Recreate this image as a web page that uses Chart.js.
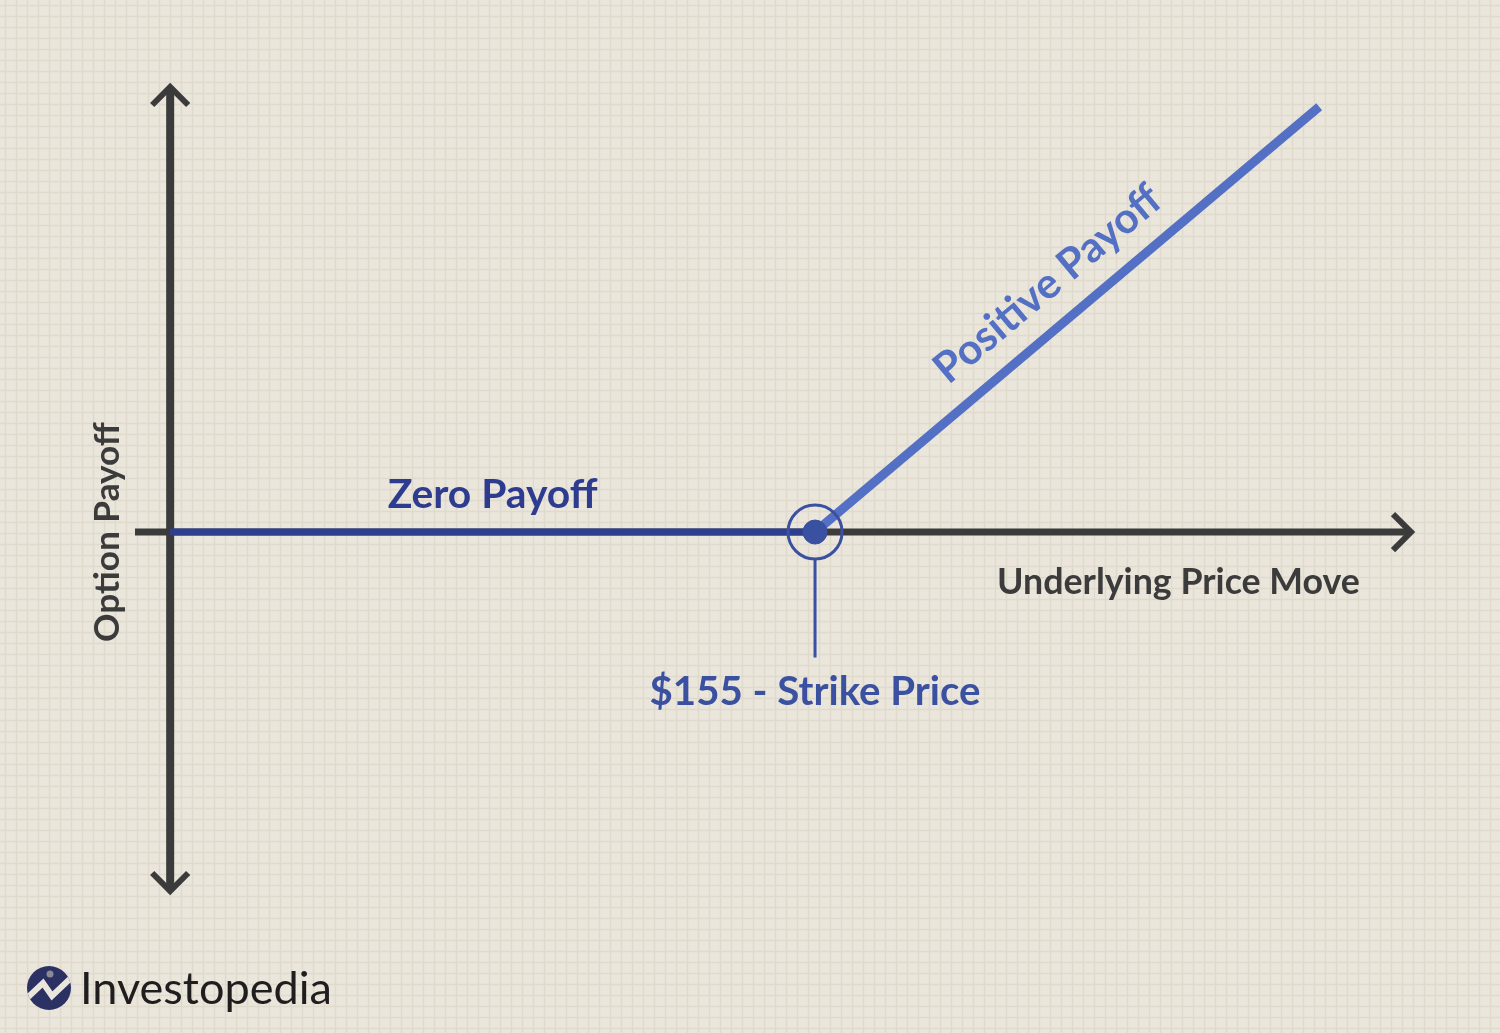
<!DOCTYPE html>
<html>
<head>
<meta charset="utf-8">
<script src="https://cdn.jsdelivr.net/npm/chart.js@4/dist/chart.umd.min.js"></script>
<style>
  html, body { margin: 0; padding: 0; background: #ebe6dc; }
  #wrap { width: 1500px; height: 1033px; position: relative; }
</style>
</head>
<body>
<div id="wrap"><canvas id="c"></canvas></div>
<script>
// ---- Data ----
const strikePrice = 155;
const zeroPayoffX = [100, 155];
const zeroPayoffY = [0, 0];
const positivePayoffX = [155, 198];
const positivePayoffY = [0, 43];
const strikeLeaderY = [-2.8, -12.7];
const axisOriginX = 100;

const labelTexts = {
  zero: 'Zero Payoff',
  positive: 'Positive Payoff',
  xAxis: 'Underlying Price Move',
  strike: '$155 - Strike Price',
  yAxis: 'Option Payoff',
  brand: 'Investopedia'
};

const toPts = (xs, ys) => xs.map((x, i) => ({ x, y: ys[i] }));

const FONT = 'Lato, "Noto Sans", sans-serif';

function fitFont(ctx, text, weight, targetW) {
  ctx.font = `${weight} 40px ${FONT}`;
  const w = ctx.measureText(text).width;
  const size = 40 * targetW / w;
  return `${weight} ${size}px ${FONT}`;
}

const bgPlugin = {
  id: 'bg',
  beforeDraw(chart) {
    const { ctx, width, height } = chart;
    ctx.save();
    ctx.fillStyle = '#ebe6dc';
    ctx.fillRect(0, 0, width, height);
    ctx.strokeStyle = '#e0dacd';
    ctx.lineWidth = 1.5;
    ctx.beginPath();
    for (let x = 5.5; x < width; x += 11) { ctx.moveTo(x, 0); ctx.lineTo(x, height); }
    for (let y = 5.5; y < height; y += 11) { ctx.moveTo(0, y); ctx.lineTo(width, y); }
    ctx.stroke();
    ctx.restore();
  }
};

const axesPlugin = {
  id: 'axesArrows',
  beforeDatasetsDraw(chart) {
    const { ctx, chartArea, scales } = chart;
    const x0 = scales.x.getPixelForValue(axisOriginX);
    const y0 = scales.y.getPixelForValue(0);
    ctx.save();
    ctx.strokeStyle = '#3b3b3b';
    ctx.lineCap = 'butt';
    ctx.lineJoin = 'miter';
    // y axis
    ctx.lineWidth = 8;
    ctx.beginPath();
    ctx.moveTo(x0, chartArea.top + 3);
    ctx.lineTo(x0, chartArea.bottom - 3);
    ctx.stroke();
    ctx.lineWidth = 6;
    ctx.beginPath();
    ctx.moveTo(x0 - 18, chartArea.top + 20);
    ctx.lineTo(x0, chartArea.top + 2);
    ctx.lineTo(x0 + 18, chartArea.top + 20);
    ctx.moveTo(x0 - 18, chartArea.bottom - 20);
    ctx.lineTo(x0, chartArea.bottom - 2);
    ctx.lineTo(x0 + 18, chartArea.bottom - 20);
    ctx.stroke();
    // x axis
    ctx.lineWidth = 7;
    ctx.beginPath();
    ctx.moveTo(chartArea.left, y0);
    ctx.lineTo(chartArea.right - 3, y0);
    ctx.stroke();
    ctx.lineWidth = 6;
    ctx.beginPath();
    ctx.moveTo(chartArea.right - 20, y0 - 18);
    ctx.lineTo(chartArea.right - 2, y0);
    ctx.lineTo(chartArea.right - 20, y0 + 18);
    ctx.stroke();
    ctx.restore();
  }
};

const labelPlugin = {
  id: 'labels',
  afterDatasetsDraw(chart, args, opts) {
    const { ctx, scales } = chart;
    ctx.save();
    opts.items.forEach(it => {
      const px = scales.x.getPixelForValue(it.x);
      const py = scales.y.getPixelForValue(it.y);
      ctx.save();
      ctx.translate(px, py);
      ctx.rotate(it.angle * Math.PI / 180);
      ctx.font = fitFont(ctx, it.text, it.weight, it.width);
      ctx.fillStyle = it.color;
      ctx.textAlign = 'center';
      ctx.textBaseline = 'alphabetic';
      ctx.fillText(it.text, 0, 0);
      ctx.restore();
    });
    // brand logo
    ctx.fillStyle = '#2c3163';
    ctx.beginPath();
    ctx.arc(49, 988, 22, 0, Math.PI * 2);
    ctx.fill();
    ctx.save();
    ctx.beginPath();
    ctx.arc(49, 988, 22, 0, Math.PI * 2);
    ctx.clip();
    ctx.strokeStyle = '#ebe6dc';
    ctx.lineWidth = 6;
    ctx.lineJoin = 'miter';
    ctx.beginPath();
    ctx.moveTo(24, 1001);
    ctx.lineTo(43, 983);
    ctx.lineTo(52, 996);
    ctx.lineTo(74, 975);
    ctx.stroke();
    ctx.restore();
    ctx.fillStyle = '#8a8a96';
    ctx.beginPath();
    ctx.arc(50, 974, 3.5, 0, Math.PI * 2);
    ctx.fill();
    ctx.font = fitFont(ctx, labelTexts.brand, 400, 252);
    ctx.fillStyle = '#1f1d1e';
    ctx.textAlign = 'left';
    ctx.textBaseline = 'alphabetic';
    ctx.fillText(labelTexts.brand, 80, 1004);
    ctx.restore();
  }
};

new Chart(document.getElementById('c'), {
  type: 'scatter',
  data: {
    datasets: [
      {
        label: 'Zero Payoff',
        data: toPts(zeroPayoffX, zeroPayoffY),
        showLine: true,
        borderColor: '#2e3f91',
        borderWidth: 7,
        pointRadius: 0,
        borderCapStyle: 'butt',
        order: 4
      },
      {
        label: 'Positive Payoff',
        data: toPts(positivePayoffX, positivePayoffY),
        showLine: true,
        borderColor: '#5470c4',
        borderWidth: 9,
        pointRadius: 0,
        borderCapStyle: 'butt',
        order: 3
      },
      {
        label: 'Strike leader',
        data: toPts([strikePrice, strikePrice], strikeLeaderY),
        showLine: true,
        borderColor: '#3a50a0',
        borderWidth: 3,
        pointRadius: 0,
        order: 2
      },
      {
        label: 'Strike ring',
        data: toPts([strikePrice], [0]),
        pointRadius: 27,
        pointBackgroundColor: 'rgba(0,0,0,0)',
        pointBorderColor: '#3a50a0',
        pointBorderWidth: 3,
        order: 1
      },
      {
        label: 'Strike',
        data: toPts([strikePrice], [0]),
        pointRadius: 12,
        pointBackgroundColor: '#3a50a0',
        pointBorderColor: '#3a50a0',
        pointBorderWidth: 1,
        order: 0
      }
    ]
  },
  options: {
    responsive: true,
    maintainAspectRatio: false,
    animation: false,
    events: [],
    layout: { padding: { left: 135, right: 87, top: 85, bottom: 140 } },
    scales: {
      x: { type: 'linear', min: 97, max: 206, display: false },
      y: { type: 'linear', min: -36.5, max: 45.2, display: false }
    },
    plugins: {
      legend: { display: false },
      tooltip: { enabled: false },
      labels: {
        items: [
          { text: labelTexts.zero, x: 127.5, y: 2.43, angle: 0, color: '#2e3c90', weight: 700, width: 210 },
          { text: labelTexts.positive, x: 175.6, y: 24.0, angle: -40, color: '#5470c4', weight: 700, width: 282 },
          { text: labelTexts.xAxis, x: 186.0, y: -6.3, angle: 0, color: '#3b3b3b', weight: 700, width: 363 },
          { text: labelTexts.strike, x: 155, y: -17.5, angle: 0, color: '#3a50a0', weight: 700, width: 331 },
          { text: labelTexts.yAxis, x: 95.6, y: 0, angle: -90, color: '#3b3b3b', weight: 700, width: 220 }
        ]
      }
    }
  },
  plugins: [bgPlugin, axesPlugin, labelPlugin]
});
</script>
</body>
</html>
